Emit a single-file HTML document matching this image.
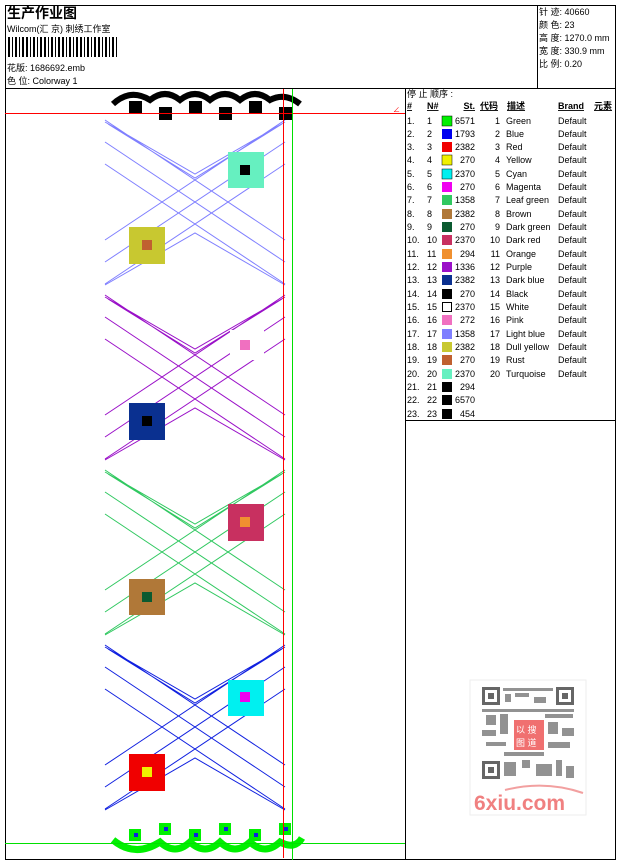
<!DOCTYPE html>
<html><head><meta charset="utf-8"><style>
html,body{margin:0;padding:0;background:#fff;}
svg{display:block;font-family:"Liberation Sans","Noto Sans CJK SC",sans-serif;}
</style></head><body>
<svg width="620" height="861" viewBox="0 0 620 861" xmlns="http://www.w3.org/2000/svg">
<defs>
<g id="sec" fill="none" stroke-width="1">
<path d="M105 10 L285 130 M105 32 L285 152 M105 54 L285 174 M285 10 L105 130 M285 32 L105 152 M285 54 L105 174 M105 12 L195 64 L285 12 M105 175 L195 123 L285 175 M108 14 L195 68 L282 14"/>
</g>
</defs>
<rect x="0" y="0" width="620" height="861" fill="#fff"/>
<rect x="5.5" y="5.5" width="610" height="83" fill="none" stroke="#000"/>
<line x1="537.5" y1="5" x2="537.5" y2="88" stroke="#000"/>
<text x="7" y="18" font-size="14" font-weight="bold">生产作业图</text>
<text x="7" y="32" font-size="9">Wilcom(汇 京) 刺绣工作室</text>
<g fill="#000">
<rect x="8" y="37" width="2" height="20"/><rect x="12" y="37" width="1" height="20"/><rect x="15" y="37" width="2" height="20"/><rect x="19" y="37" width="1" height="20"/><rect x="22" y="37" width="2" height="20"/><rect x="26" y="37" width="2" height="20"/><rect x="30" y="37" width="1" height="20"/><rect x="33" y="37" width="2" height="20"/><rect x="37" y="37" width="1" height="20"/><rect x="40" y="37" width="2" height="20"/><rect x="44" y="37" width="2" height="20"/><rect x="48" y="37" width="1" height="20"/><rect x="51" y="37" width="2" height="20"/><rect x="55" y="37" width="1" height="20"/><rect x="58" y="37" width="2" height="20"/><rect x="62" y="37" width="2" height="20"/><rect x="66" y="37" width="1" height="20"/><rect x="69" y="37" width="2" height="20"/><rect x="73" y="37" width="1" height="20"/><rect x="76" y="37" width="2" height="20"/><rect x="80" y="37" width="2" height="20"/><rect x="84" y="37" width="1" height="20"/><rect x="87" y="37" width="2" height="20"/><rect x="91" y="37" width="1" height="20"/><rect x="94" y="37" width="2" height="20"/><rect x="98" y="37" width="2" height="20"/><rect x="102" y="37" width="1" height="20"/><rect x="105" y="37" width="2" height="20"/><rect x="109" y="37" width="1" height="20"/><rect x="112" y="37" width="2" height="20"/><rect x="116" y="37" width="1" height="20"/>
</g>
<text x="7" y="71" font-size="9">花版: 1686692.emb</text>
<text x="7" y="84" font-size="9">色 位: Colorway 1</text>
<g font-size="9">
<text x="539" y="15">针 迹: 40660</text>
<text x="539" y="28">颜 色: 23</text>
<text x="539" y="41">高 度: 1270.0 mm</text>
<text x="539" y="54">宽 度: 330.9 mm</text>
<text x="539" y="67">比 例: 0.20</text>
</g>
<rect x="5.5" y="88.5" width="610" height="771" fill="none" stroke="#000"/>
<line x1="405.5" y1="88" x2="405.5" y2="860" stroke="#000"/>
<line x1="405" y1="420.5" x2="615" y2="420.5" stroke="#000"/>
<use href="#sec" transform="translate(0,110)" stroke="#7f7fff"/>
<use href="#sec" transform="translate(0,285)" stroke="#9a10c8"/>
<use href="#sec" transform="translate(0,460)" stroke="#30c860"/>
<use href="#sec" transform="translate(0,635)" stroke="#1020e0"/>
<rect x="228" y="152" width="36" height="36" fill="#66f0c0"/><rect x="240" y="165" width="10" height="10" fill="#000"/>
<rect x="129" y="227" width="36" height="37" fill="#c8c830"/><rect x="142" y="240" width="10" height="10" fill="#c06030"/>
<rect x="230" y="330" width="34" height="30" fill="#fff"/><rect x="240" y="340" width="10" height="10" fill="#f070c0"/>
<rect x="129" y="403" width="36" height="37" fill="#0a3090"/><rect x="142" y="416" width="10" height="10" fill="#000"/>
<rect x="228" y="504" width="36" height="37" fill="#c83060"/><rect x="240" y="517" width="10" height="10" fill="#f09030"/>
<rect x="129" y="579" width="36" height="36" fill="#b07838"/><rect x="142" y="592" width="10" height="10" fill="#0a5a30"/>
<rect x="228" y="680" width="36" height="36" fill="#00f0f0"/><rect x="240" y="692" width="10" height="10" fill="#f000f0"/>
<rect x="129" y="754" width="36" height="37" fill="#f00000"/><rect x="142" y="767" width="10" height="10" fill="#f0f000"/>
<path d="M113 104 Q130 88 150 100 Q165 88 180 100 Q195 88 210 100 Q225 88 240 100 Q255 88 270 100 Q285 92 300 104" fill="none" stroke="#000" stroke-width="6"/>
<g fill="#000">
<rect x="129" y="101" width="13" height="13"/><rect x="159" y="107" width="13" height="13"/><rect x="189" y="101" width="13" height="13"/><rect x="219" y="107" width="13" height="13"/><rect x="249" y="101" width="13" height="13"/><rect x="279" y="107" width="13" height="13"/>
</g>
<path d="M113 840 Q135 858 160 842 Q175 856 190 842 Q205 856 220 842 Q235 856 250 842 Q265 856 280 842 Q295 850 302 838" fill="none" stroke="#00f000" stroke-width="7"/>
<g fill="#00f000">
<rect x="129" y="829" width="12" height="12"/><rect x="159" y="823" width="12" height="12"/><rect x="189" y="829" width="12" height="12"/><rect x="219" y="823" width="12" height="12"/><rect x="249" y="829" width="12" height="12"/><rect x="279" y="823" width="12" height="12"/>
</g>
<g fill="#1020e0">
<rect x="134" y="833" width="4" height="4"/><rect x="164" y="827" width="4" height="4"/><rect x="194" y="833" width="4" height="4"/><rect x="224" y="827" width="4" height="4"/><rect x="254" y="833" width="4" height="4"/><rect x="284" y="827" width="4" height="4"/>
</g>
<line x1="5" y1="113.5" x2="405" y2="113.5" stroke="#f00"/>
<line x1="283.5" y1="89" x2="283.5" y2="858" stroke="#f00"/>
<line x1="292.5" y1="89" x2="292.5" y2="860" stroke="#00e000"/>
<line x1="5" y1="843.5" x2="405" y2="843.5" stroke="#00e000"/>
<text x="393" y="112" font-size="7" fill="#f00">∠</text>
<g font-size="9">
<text x="407" y="97">停 止 顺序 :</text>
<g font-weight="bold" text-decoration="underline">
<text x="407" y="109">#</text><text x="427" y="109">N#</text><text x="475" y="109" text-anchor="end">St.</text><text x="480" y="109">代码</text><text x="507" y="109">描述</text><text x="558" y="109">Brand</text><text x="594" y="109">元素</text>
</g>
</g>
<g font-size="9">
<text x="407" y="124">1.</text><text x="427" y="124">1</text><rect x="442" y="116" width="10" height="10" fill="#00f000" stroke="#000" stroke-width=".5"/><text x="475" y="124" text-anchor="end">6571</text><text x="500" y="124" text-anchor="end">1</text><text x="506" y="124">Green</text><text x="558" y="124">Default</text>
<text x="407" y="137">2.</text><text x="427" y="137">2</text><rect x="442" y="129" width="10" height="10" fill="#0000f0"/><text x="475" y="137" text-anchor="end">1793</text><text x="500" y="137" text-anchor="end">2</text><text x="506" y="137">Blue</text><text x="558" y="137">Default</text>
<text x="407" y="150">3.</text><text x="427" y="150">3</text><rect x="442" y="142" width="10" height="10" fill="#f00000"/><text x="475" y="150" text-anchor="end">2382</text><text x="500" y="150" text-anchor="end">3</text><text x="506" y="150">Red</text><text x="558" y="150">Default</text>
<text x="407" y="163">4.</text><text x="427" y="163">4</text><rect x="442" y="155" width="10" height="10" fill="#f0f000" stroke="#000" stroke-width=".5"/><text x="475" y="163" text-anchor="end">270</text><text x="500" y="163" text-anchor="end">4</text><text x="506" y="163">Yellow</text><text x="558" y="163">Default</text>
<text x="407" y="177">5.</text><text x="427" y="177">5</text><rect x="442" y="169" width="10" height="10" fill="#00f0f0" stroke="#000" stroke-width=".5"/><text x="475" y="177" text-anchor="end">2370</text><text x="500" y="177" text-anchor="end">5</text><text x="506" y="177">Cyan</text><text x="558" y="177">Default</text>
<text x="407" y="190">6.</text><text x="427" y="190">6</text><rect x="442" y="182" width="10" height="10" fill="#f000f0"/><text x="475" y="190" text-anchor="end">270</text><text x="500" y="190" text-anchor="end">6</text><text x="506" y="190">Magenta</text><text x="558" y="190">Default</text>
<text x="407" y="203">7.</text><text x="427" y="203">7</text><rect x="442" y="195" width="10" height="10" fill="#30c860"/><text x="475" y="203" text-anchor="end">1358</text><text x="500" y="203" text-anchor="end">7</text><text x="506" y="203">Leaf green</text><text x="558" y="203">Default</text>
<text x="407" y="217">8.</text><text x="427" y="217">8</text><rect x="442" y="209" width="10" height="10" fill="#b07838"/><text x="475" y="217" text-anchor="end">2382</text><text x="500" y="217" text-anchor="end">8</text><text x="506" y="217">Brown</text><text x="558" y="217">Default</text>
<text x="407" y="230">9.</text><text x="427" y="230">9</text><rect x="442" y="222" width="10" height="10" fill="#0a5a30"/><text x="475" y="230" text-anchor="end">270</text><text x="500" y="230" text-anchor="end">9</text><text x="506" y="230">Dark green</text><text x="558" y="230">Default</text>
<text x="407" y="243">10.</text><text x="427" y="243">10</text><rect x="442" y="235" width="10" height="10" fill="#c83060"/><text x="475" y="243" text-anchor="end">2370</text><text x="500" y="243" text-anchor="end">10</text><text x="506" y="243">Dark red</text><text x="558" y="243">Default</text>
<text x="407" y="257">11.</text><text x="427" y="257">11</text><rect x="442" y="249" width="10" height="10" fill="#f09030"/><text x="475" y="257" text-anchor="end">294</text><text x="500" y="257" text-anchor="end">11</text><text x="506" y="257">Orange</text><text x="558" y="257">Default</text>
<text x="407" y="270">12.</text><text x="427" y="270">12</text><rect x="442" y="262" width="10" height="10" fill="#9a10c8"/><text x="475" y="270" text-anchor="end">1336</text><text x="500" y="270" text-anchor="end">12</text><text x="506" y="270">Purple</text><text x="558" y="270">Default</text>
<text x="407" y="283">13.</text><text x="427" y="283">13</text><rect x="442" y="275" width="10" height="10" fill="#0a3090"/><text x="475" y="283" text-anchor="end">2382</text><text x="500" y="283" text-anchor="end">13</text><text x="506" y="283">Dark blue</text><text x="558" y="283">Default</text>
<text x="407" y="297">14.</text><text x="427" y="297">14</text><rect x="442" y="289" width="10" height="10" fill="#000"/><text x="475" y="297" text-anchor="end">270</text><text x="500" y="297" text-anchor="end">14</text><text x="506" y="297">Black</text><text x="558" y="297">Default</text>
<text x="407" y="310">15.</text><text x="427" y="310">15</text><rect x="442.5" y="302.5" width="9" height="9" fill="#fff" stroke="#000"/><text x="475" y="310" text-anchor="end">2370</text><text x="500" y="310" text-anchor="end">15</text><text x="506" y="310">White</text><text x="558" y="310">Default</text>
<text x="407" y="323">16.</text><text x="427" y="323">16</text><rect x="442" y="315" width="10" height="10" fill="#f070c0"/><text x="475" y="323" text-anchor="end">272</text><text x="500" y="323" text-anchor="end">16</text><text x="506" y="323">Pink</text><text x="558" y="323">Default</text>
<text x="407" y="337">17.</text><text x="427" y="337">17</text><rect x="442" y="329" width="10" height="10" fill="#7f7fff"/><text x="475" y="337" text-anchor="end">1358</text><text x="500" y="337" text-anchor="end">17</text><text x="506" y="337">Light blue</text><text x="558" y="337">Default</text>
<text x="407" y="350">18.</text><text x="427" y="350">18</text><rect x="442" y="342" width="10" height="10" fill="#c8c830"/><text x="475" y="350" text-anchor="end">2382</text><text x="500" y="350" text-anchor="end">18</text><text x="506" y="350">Dull yellow</text><text x="558" y="350">Default</text>
<text x="407" y="363">19.</text><text x="427" y="363">19</text><rect x="442" y="355" width="10" height="10" fill="#c06030"/><text x="475" y="363" text-anchor="end">270</text><text x="500" y="363" text-anchor="end">19</text><text x="506" y="363">Rust</text><text x="558" y="363">Default</text>
<text x="407" y="377">20.</text><text x="427" y="377">20</text><rect x="442" y="369" width="10" height="10" fill="#66f0c0"/><text x="475" y="377" text-anchor="end">2370</text><text x="500" y="377" text-anchor="end">20</text><text x="506" y="377">Turquoise</text><text x="558" y="377">Default</text>
<text x="407" y="390">21.</text><text x="427" y="390">21</text><rect x="442" y="382" width="10" height="10" fill="#000"/><text x="475" y="390" text-anchor="end">294</text>
<text x="407" y="403">22.</text><text x="427" y="403">22</text><rect x="442" y="395" width="10" height="10" fill="#000"/><text x="475" y="403" text-anchor="end">6570</text>
<text x="407" y="417">23.</text><text x="427" y="417">23</text><rect x="442" y="409" width="10" height="10" fill="#000"/><text x="475" y="417" text-anchor="end">454</text>
</g>
<rect x="470" y="680" width="116" height="135" fill="#fff" stroke="#eee"/>
<g fill="#666">
<rect x="482" y="687" width="18" height="18"/><rect x="556" y="687" width="18" height="18"/><rect x="482" y="761" width="18" height="18"/>
</g>
<g fill="#fff"><rect x="485" y="690" width="12" height="12"/><rect x="559" y="690" width="12" height="12"/><rect x="485" y="764" width="12" height="12"/></g>
<g fill="#666"><rect x="488" y="693" width="6" height="6"/><rect x="562" y="693" width="6" height="6"/><rect x="488" y="767" width="6" height="6"/></g>
<g fill="#777" opacity="0.8">
<rect x="503" y="688" width="50" height="3"/><rect x="505" y="694" width="6" height="8"/><rect x="515" y="693" width="14" height="4"/><rect x="534" y="697" width="12" height="6"/>
<rect x="482" y="709" width="92" height="3"/><rect x="486" y="715" width="10" height="10"/><rect x="500" y="714" width="8" height="20"/><rect x="545" y="714" width="28" height="4"/><rect x="548" y="722" width="10" height="12"/><rect x="562" y="728" width="12" height="8"/>
<rect x="482" y="730" width="14" height="6"/><rect x="486" y="742" width="20" height="4"/><rect x="548" y="742" width="22" height="6"/><rect x="504" y="752" width="40" height="4"/>
<rect x="504" y="762" width="12" height="14"/><rect x="522" y="760" width="8" height="8"/><rect x="536" y="764" width="16" height="12"/><rect x="556" y="760" width="6" height="16"/><rect x="566" y="766" width="8" height="12"/>
</g>
<rect x="514" y="720" width="30" height="30" fill="#f07070"/>
<text x="516" y="733" font-size="9" fill="#fff">以 搜</text><text x="516" y="746" font-size="9" fill="#fff">图 道</text>
<path d="M505 790 Q545 780 583 793" fill="none" stroke="#f2a0a0" stroke-width="2"/>
<text x="474" y="810" font-size="21" font-weight="bold" fill="#f08080">6xiu.com</text>
</svg>
</body></html>
